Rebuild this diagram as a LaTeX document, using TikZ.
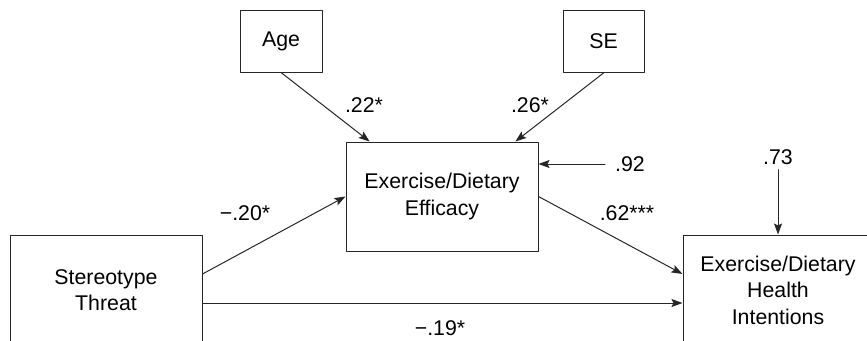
\documentclass[tikz,border=0pt]{standalone}
\usepackage{fontspec}
\setmainfont{Liberation Sans}
\usetikzlibrary{calc, arrows.meta}

\begin{document}
\begin{tikzpicture}[x=1pt, y=-1pt, line cap=round, line join=round,
    box/.style={draw=black!85, line width=1pt, align=center, font=\fontsize{21.3}{26.5}\selectfont},
    coef/.style={inner sep=2pt, font=\fontsize{21.3}{26.5}\selectfont},
    path/.style={-{Stealth[length=11pt, width=8pt, inset=2pt]}, line width=1pt, draw=black!85}]
    \useasboundingbox (0,0) rectangle (867,340);
    \clip (0,0) rectangle (867,340);
    %Boxes
        %Covariates
    \node[box, minimum width=82pt, minimum height=62pt] (age) at (281,41) {Age};
    \node[box, minimum width=81pt, minimum height=62pt] (se) at (603.5,41.5) {SE};
        %Mediator
    \node[box, minimum width=192pt, minimum height=109pt] (eff) at (442,196.5) {Exercise/Dietary\\Efficacy};
        %Predictor and Outcome
    \node[box, minimum width=192pt, minimum height=110pt] (threat) at (106,290) {Stereotype\\Threat};
    \node[box, minimum width=190pt, minimum height=110pt] (intent) at (778,290) {Exercise/Dietary\\Health\\Intentions};

    %Coefficients
    \node[coef] (c22) at (364,105) {.22*};
    \node[coef] (c26) at (530,105) {.26*};
    \node[coef] (c20) at (245,213) {−.20*};
    \node[coef] (c62) at (627,213) {.62***};
    \node[coef] (c19) at (440,328) {−.19*};
    \node[coef] (t92) at (630,164) {.92};
    \node[coef] (t73) at (778,157) {.73};

    %Paths
    \draw[path] (age.south) -- ($(eff.north west)!0.125!(eff.north east)$);
    \draw[path] (se.south) -- ($(eff.north west)!0.88!(eff.north east)$);
    \draw[path] ([yshift=16pt]threat.east) -- (eff.west);
    \draw[path] (eff.east) -- ([yshift=16pt]intent.west);
    \draw[path] ([yshift=-13pt]threat.east) -- ([yshift=-13pt]intent.west);
        %Residuals
    \draw[path] ([xshift=-8pt]t92.west) -- (eff.east |- t92);
    \draw[path] ([yshift=-3pt]t73.south) -- (intent.north);
\end{tikzpicture}
\end{document}
